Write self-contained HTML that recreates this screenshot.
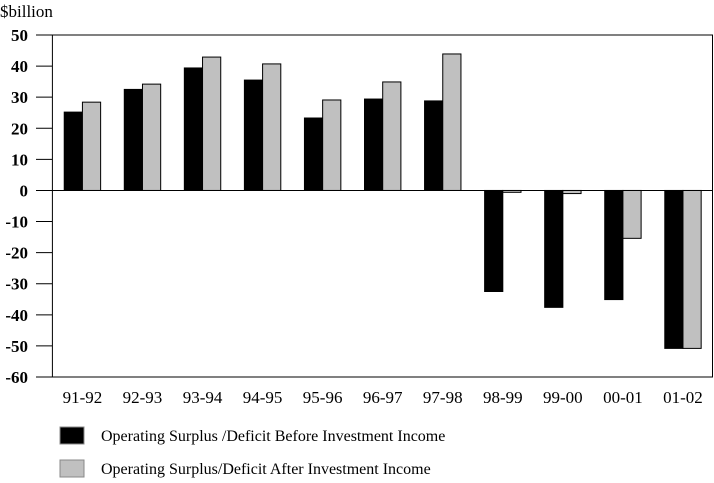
<!DOCTYPE html>
<html><head><meta charset="utf-8"><style>
body{margin:0;background:#fff}
svg text{font-family:"Liberation Serif",serif;fill:#000}
</style></head><body>
<svg width="714" height="478" viewBox="0 0 714 478">
<text x="0" y="17" font-size="17">$billion</text>
<g id="plot"></g>
<rect x="60" y="427" width="24" height="17" fill="#000" stroke="#888"/>
<text x="101" y="441" font-size="16">Operating Surplus /Deficit Before Investment Income</text>
<rect x="60" y="460" width="24" height="17" fill="#c0c0c0" stroke="#888"/>
<text x="101" y="474" font-size="16">Operating Surplus/Deficit After Investment Income</text>
</svg>
<script>
const categories=["91-92","92-93","93-94","94-95","95-96","96-97","97-98","98-99","99-00","00-01","01-02"];
const before=[25.2,32.5,39.4,35.5,23.3,29.4,28.8,-32.5,-37.6,-35.1,-50.8];
const after=[28.4,34.2,42.9,40.7,29.1,34.9,43.9,-0.6,-1.0,-15.4,-50.8];
const yTicks=[50,40,30,20,10,0,-10,-20,-30,-40,-50,-60];
const NS="http://www.w3.org/2000/svg";
const g=document.getElementById('plot');
const L=52.4,R=713,T=35,B=377,ymax=50,ymin=-60;
const y=v=>T+(ymax-v)/(ymax-ymin)*(B-T);
const bw=(R-L)/categories.length;
const x=i=>L+bw*(i+0.5);
function mk(t,a){const e=document.createElementNS(NS,t);for(const k in a)e.setAttribute(k,a[k]);g.appendChild(e);return e;}
let f=mk('rect',{x:L,y:T,width:R-L-0.5,height:B-T,fill:'none',stroke:'#000','stroke-width':1});


yTicks.forEach(v=>{
 const l=mk('line',{x1:36,x2:L,y1:y(v),y2:y(v),stroke:'#000'});
 
 
 const t=mk('text',{x:28,y:y(v)+6,'font-size':17,'text-anchor':'end','font-weight':'bold'});
 t.textContent=v;
 
 
});
const w=18.2;
categories.forEach((c,i)=>{
 const cx=x(i);
 [[before[i],'#000',cx-w],[after[i],'#c0c0c0',cx]].forEach(([v,col,bx],j)=>{
  const y0=y(Math.max(v,0)),y1=y(Math.min(v,0));
  const r=mk('rect',{x:bx,y:y0,width:w,height:y1-y0,fill:col,stroke:'#000','stroke-width':1});
  
  
 });
 const t=mk('text',{x:cx,y:403,'font-size':17,'text-anchor':'middle'});
 t.textContent=c;
 
 
});
const z=mk('line',{x1:L,x2:R,y1:y(0),y2:y(0),stroke:'#000'});


</script>
</body></html>
